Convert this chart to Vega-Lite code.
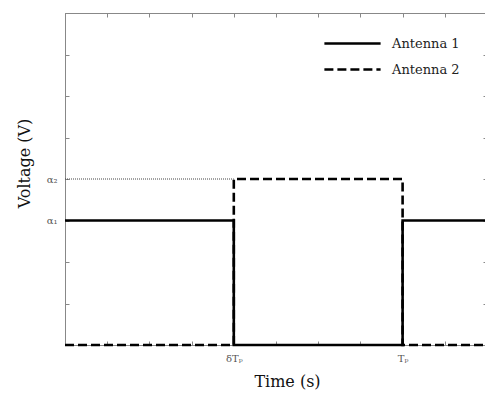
{
  "$schema": "https://vega.github.io/schema/vega-lite/v6.json",
  "autosize": {"type": "none"},
  "padding": {"left": 65, "top": 13, "right": 0, "bottom": 49},
  "width": 422,
  "height": 332,
  "config": {
    "view": {"stroke": "#888", "strokeWidth": 1},
    "font": "DejaVu Serif",
    "axis": {
      "grid": false,
      "domainColor": "#888",
      "tickColor": "#888",
      "tickSize": -4,
      "labelFont": "DejaVu Serif",
      "titleFont": "DejaVu Serif",
      "labelColor": "#555",
      "labelFontSize": 10,
      "titleFontSize": 16,
      "titleFontWeight": "normal",
      "titleColor": "#111"
    },
    "legend": {
      "labelFont": "DejaVu Serif"
    }
  },
  "datasets": {
    "signals": [
      {"t": 0, "v": 3, "antenna": "Antenna 1", "o": 1},
      {"t": 4, "v": 3, "antenna": "Antenna 1", "o": 2},
      {"t": 4, "v": 0, "antenna": "Antenna 1", "o": 3},
      {"t": 8, "v": 0, "antenna": "Antenna 1", "o": 4},
      {"t": 8, "v": 3, "antenna": "Antenna 1", "o": 5},
      {"t": 10, "v": 3, "antenna": "Antenna 1", "o": 6},
      {"t": 0, "v": 0, "antenna": "Antenna 2", "o": 1},
      {"t": 4, "v": 0, "antenna": "Antenna 2", "o": 2},
      {"t": 4, "v": 4, "antenna": "Antenna 2", "o": 3},
      {"t": 8, "v": 4, "antenna": "Antenna 2", "o": 4},
      {"t": 8, "v": 0, "antenna": "Antenna 2", "o": 5},
      {"t": 10, "v": 0, "antenna": "Antenna 2", "o": 6}
    ],
    "guide": [
      {"t": 0, "v": 4},
      {"t": 4, "v": 4}
    ]
  },
  "layer": [
    {
      "data": {"name": "guide"},
      "mark": {"type": "line", "color": "#444", "strokeWidth": 1, "strokeDash": [1, 1]},
      "encoding": {
        "x": {
          "field": "t", "type": "quantitative",
          "scale": {"domain": [0, 10], "nice": false, "zero": false},
          "axis": {
            "values": [0, 1, 2, 3, 4, 5, 6, 7, 8, 9, 10],
            "labelExpr": "datum.value == 4 ? 'δTₚ' : datum.value == 8 ? 'Tₚ' : ''",
            "labelPadding": 12,
            "title": "Time (s)",
            "titleX": 222,
            "titleY": 41,
            "titleBaseline": "alphabetic"
          }
        },
        "y": {
          "field": "v", "type": "quantitative",
          "scale": {"domain": [0, 8], "nice": false},
          "axis": {
            "values": [0, 1, 2, 3, 4, 5, 6, 7, 8],
            "labelExpr": "datum.value == 3 ? 'α₁' : datum.value == 4 ? 'α₂' : ''",
            "labelPadding": 12,
            "title": "Voltage (V)",
            "titleX": -33,
            "titleY": 150
          }
        }
      }
    },
    {
      "data": {"name": "signals"},
      "mark": {"type": "line", "color": "black", "strokeWidth": 2.6, "strokeCap": "butt"},
      "encoding": {
        "x": {"field": "t", "type": "quantitative", "axis": {"orient": "top", "labels": false, "title": null, "values": [0, 1, 2, 3, 4, 5, 6, 7, 8, 9, 10]}},
        "y": {"field": "v", "type": "quantitative", "axis": {"orient": "right", "labels": false, "title": null, "values": [0, 1, 2, 3, 4, 5, 6, 7, 8]}},
        "order": {"field": "o"},
        "strokeDash": {
          "field": "antenna", "type": "nominal",
          "scale": {"domain": ["Antenna 1", "Antenna 2"], "range": [[1, 0], [9, 4]]},
          "legend": {
            "title": null,
            "orient": "none",
            "legendX": 272,
            "legendY": 15,
            "symbolType": "M-2,0H2",
            "symbolSize": 790,
            "symbolStrokeWidth": 2.6,
            "symbolStrokeColor": "black",
            "labelFontSize": 13,
            "labelColor": "#222",
            "rowPadding": 3,
            "labelOffset": 24
          }
        }
      }
    }
  ],
  "resolve": {"axis": {"x": "independent", "y": "independent"}}
}
